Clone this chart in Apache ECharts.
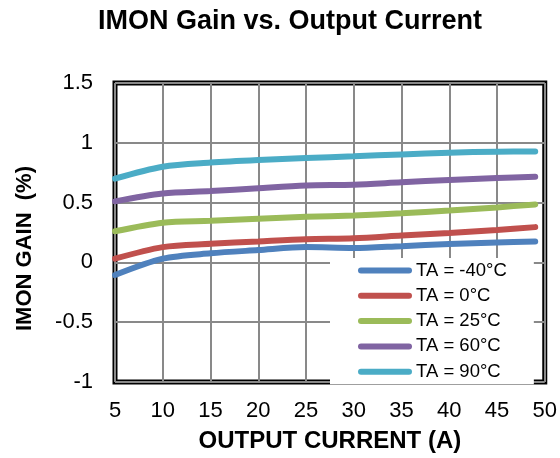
<!DOCTYPE html>
<html>
<head>
<meta charset="utf-8">
<title>IMON Gain vs. Output Current</title>
<script src="https://cdn.jsdelivr.net/npm/echarts@6/dist/echarts.min.js"></script>
<style>
  html, body { margin: 0; padding: 0; background: #fff; }
  #chart { width: 560px; height: 458px; }
</style>
</head>
<body>
<div id="chart"></div>
<script>
// output current (A)
const current = [5, 10, 15, 20, 25, 30, 35, 40, 45, 49];

// IMON gain (%) per ambient temperature
const gainM40 = [-0.106, 0.031, 0.076, 0.103, 0.128, 0.12, 0.136, 0.153, 0.167, 0.175];
const gain0 = [0.031, 0.128, 0.155, 0.175, 0.194, 0.202, 0.224, 0.246, 0.27, 0.295];
const gain25 = [0.26, 0.332, 0.348, 0.365, 0.381, 0.392, 0.411, 0.433, 0.46, 0.485];
const gain60 = [0.51, 0.576, 0.596, 0.62, 0.642, 0.65, 0.67, 0.689, 0.705, 0.716];
const gain90 = [0.70, 0.80, 0.835, 0.857, 0.873, 0.887, 0.903, 0.917, 0.926, 0.928];

const seriesNames = ["TA = -40°C", "TA = 0°C", "TA = 25°C", "TA = 60°C", "TA = 90°C"];
const seriesValues = [gainM40, gain0, gain25, gain60, gain90];
const colors = ["#4F81BD", "#C0504D", "#9BBB59", "#8064A2", "#4BACC6"];

const font = "'Liberation Sans', Arial, sans-serif";

// tick label style, given through rich text so the size sticks
const tickRich = {
  t: { fontFamily: font, fontSize: 22, color: "#000", lineHeight: 22 }
};

let mychart = echarts.init(document.getElementById("chart"));
let option = {
  animation: false,
  color: colors,
  title: {
    text: "IMON Gain vs. Output Current",
    left: 98,
    top: 8,
    padding: 0,
    textStyle: {
      fontFamily: font,
      fontSize: 27,
      fontWeight: "bold",
      color: "#000"
    }
  },
  grid: {
    left: 115,
    right: 15,
    top: 83,
    bottom: 72,
    show: true,
    borderColor: "#000",
    borderWidth: 5,
    backgroundColor: "#fff"
  },
  legend: {
    data: seriesNames,
    orient: "vertical",
    left: 330,
    top: 258,
    padding: [3, 27, 3, 28],
    backgroundColor: "#fff",
    itemWidth: 54,
    itemHeight: 6,
    itemGap: 6.3,
    icon: "path://M3,0 H51 A3,3 0 0 1 51,6 H3 A3,3 0 0 1 3,0 Z",
    textStyle: {
      fontFamily: font,
      fontSize: 18.5,
      lineHeight: 18,
      color: "#000",
      padding: [0, 0, 0, -1]
    }
  },
  xAxis: {
    type: "value",
    min: 5,
    max: 50,
    interval: 5,
    name: "OUTPUT CURRENT (A)",
    nameLocation: "middle",
    nameGap: 47,
    nameTextStyle: {
      fontFamily: font,
      fontSize: 24,
      fontWeight: "bold",
      color: "#000"
    },
    axisLine: { show: false },
    axisTick: { show: false },
    axisLabel: {
      fontFamily: font,
      fontSize: 22,
      color: "#000",
      margin: 18,
      formatter: "{t|{value}}",
      rich: tickRich
    },
    splitLine: {
      lineStyle: { color: "#898989", width: 2 }
    }
  },
  yAxis: {
    type: "value",
    min: -1,
    max: 1.5,
    interval: 0.5,
    name: "IMON GAIN  (%)",
    nameLocation: "middle",
    nameRotate: 90,
    nameGap: 79,
    nameTextStyle: {
      fontFamily: font,
      fontSize: 22,
      fontWeight: "bold",
      color: "#000",
      padding: [0, 32, 0, 0]
    },
    axisLine: { show: false },
    axisTick: { show: false },
    axisLabel: {
      fontFamily: font,
      fontSize: 22,
      color: "#000",
      margin: 22,
      formatter: "{t|{value}}",
      rich: tickRich
    },
    splitLine: {
      lineStyle: { color: "#898989", width: 2 }
    }
  },
  series: seriesNames.map((name, i) => ({
    name: name,
    type: "line",
    data: current.map((x, j) => [x, seriesValues[i][j]]),
    smooth: 0.3,
    symbol: "none",
    lineStyle: {
      color: colors[i],
      width: 6,
      cap: "round"
    },
    itemStyle: { color: colors[i] }
  }))
};

mychart.setOption(option);
</script>
</body>
</html>
